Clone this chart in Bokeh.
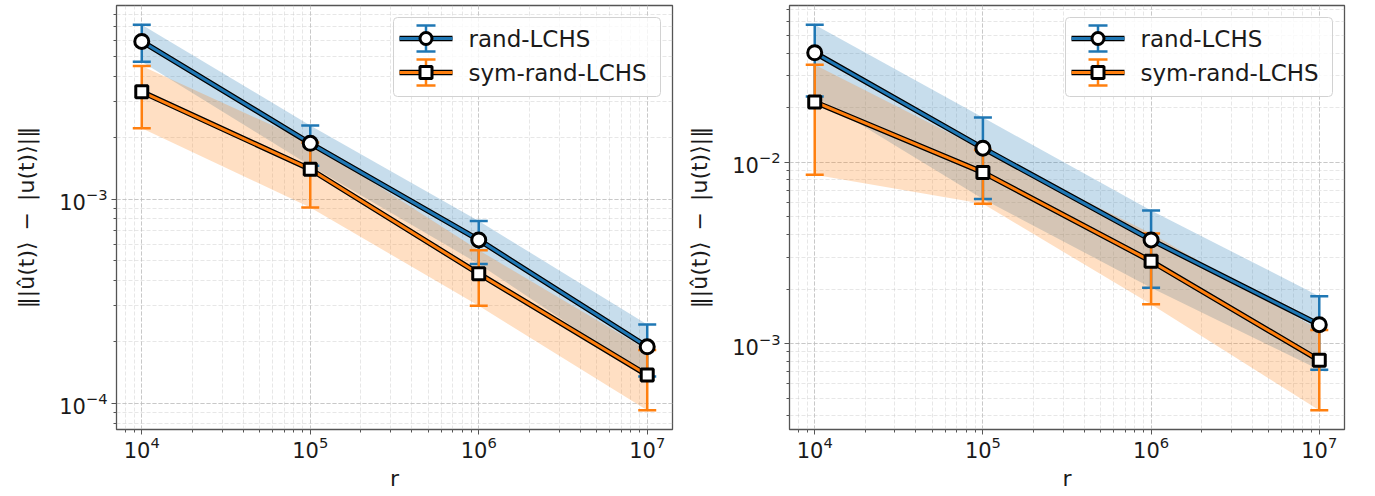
import numpy as np
from bokeh.plotting import figure
from bokeh.models import (ColumnDataSource, Whisker, TeeHead, BoxAnnotation, Range1d,
                          LogTicker, Label)
from bokeh.layouts import row
from bokeh.embed import file_html
from bokeh.resources import INLINE

# ---------------- data ----------------
r_values = [1e4, 1e5, 1e6, 1e7]

left_rand_mean = [5.92e-3, 1.875e-3, 6.31e-4, 1.89e-4]
left_rand_std = [1.22e-3, 4.2e-4, 1.5e-4, 5.4e-5]
left_sym_mean = [3.35e-3, 1.40e-3, 4.31e-4, 1.374e-4]
left_sym_std = [1.13e-3, 4.9e-4, 1.31e-4, 4.5e-5]

right_rand_mean = [4.03e-2, 1.199e-2, 3.736e-3, 1.272e-3]
right_rand_std = [1.72e-2, 5.7e-3, 1.7e-3, 5.55e-4]
right_sym_mean = [2.156e-2, 8.81e-3, 2.85e-3, 8.09e-4]
right_sym_std = [1.30e-2, 2.9e-3, 1.2e-3, 3.8e-4]

series_labels = ["rand-LCHS", "sym-rand-LCHS"]
x_label = "r"
y_label = "‖|û(t)⟩\u2002−\u2002|u(t)⟩|‖"

# ---------------- style ----------------
BLUE = "#1f77b4"
ORANGE = "#ff7f0e"
FONT = "DejaVu Sans"
FRAME_H = 424
EDGE = "#555555"
TEXT = "#1a1a1a"
LEG_W, LEG_H = 267, 79
LEG_OFF = 12
ROW_1, ROW_GAP = 21, 34          # legend row centres below the legend top
GLYPH_X, GLYPH_W = 6, 53         # legend glyph offset and length
TEXT_X = 75                       # legend text offset
MARK_H = 6                        # half size of the legend markers


def log_range(values, frac=0.05):
    lo, hi = np.log10(min(values)), np.log10(max(values))
    pad = frac * (hi - lo)
    return Range1d(10 ** (lo - pad), 10 ** (hi + pad))


def screen_whisker(p, base, lower, upper, dim, color, width, cap=None):
    src = ColumnDataSource(dict(base=[base], lower=[lower], upper=[upper]))
    head = (lambda: TeeHead(size=cap, line_color=color, line_width=width)) if cap else (lambda: None)
    w = Whisker(source=src, base="base", lower="lower", upper="upper", dimension=dim,
                base_units="screen", lower_units="screen", upper_units="screen",
                line_color=color, line_width=width, upper_head=head(), lower_head=head(),
                level="annotation")
    p.add_layout(w)


def screen_box(p, left, right, bottom, top, **kw):
    p.add_layout(BoxAnnotation(left=left, right=right, bottom=bottom, top=top,
                               left_units="screen", right_units="screen",
                               top_units="screen", bottom_units="screen",
                               level="annotation", **kw))


def make_panel(rand_mean, rand_std, sym_mean, sym_std, b_left, frame_w, b_right):
    rand_lo = [m - s for m, s in zip(rand_mean, rand_std)]
    rand_hi = [m + s for m, s in zip(rand_mean, rand_std)]
    sym_lo = [m - s for m, s in zip(sym_mean, sym_std)]
    sym_hi = [m + s for m, s in zip(sym_mean, sym_std)]

    p = figure(x_axis_type="log", y_axis_type="log",
               x_range=log_range(r_values),
               y_range=log_range(rand_lo + rand_hi + sym_lo + sym_hi),
               frame_width=frame_w, frame_height=FRAME_H,
               min_border_left=b_left, min_border_right=b_right,
               min_border_top=5, min_border_bottom=0,
               output_backend="svg", toolbar_location=None)
    p.background_fill_color = "white"
    p.border_fill_color = "white"
    p.outline_line_color = EDGE
    p.outline_line_width = 1.3

    for g in (p.xgrid, p.ygrid):
        g.grid_line_color = "#bdbdbd"
        g.grid_line_alpha = 0.65
        g.grid_line_dash = "4 2"
        g.grid_line_width = 0.9
        g.minor_grid_line_color = "#c8c8c8"
        g.minor_grid_line_alpha = 0.55
        g.minor_grid_line_dash = "4 2"
        g.minor_grid_line_width = 0.8

    for ax in (p.xaxis, p.yaxis):
        ax.ticker = LogTicker(num_minor_ticks=10)
        ax.axis_line_color = None
        ax.major_tick_line_color = EDGE
        ax.minor_tick_line_color = EDGE
        ax.major_tick_in = 0
        ax.major_tick_out = 5
        ax.minor_tick_in = 0
        ax.minor_tick_out = 3
        ax.major_label_text_font = FONT
        ax.major_label_text_font_size = "21px"
        ax.major_label_text_color = TEXT
        ax.axis_label_text_font = FONT
        ax.axis_label_text_font_size = "22px"
        ax.axis_label_text_font_style = "normal"
        ax.axis_label_text_color = TEXT
    p.xaxis.axis_label = x_label
    p.yaxis.axis_label = y_label
    p.xaxis.major_label_standoff = 1
    p.yaxis.major_label_standoff = 4
    p.xaxis.axis_label_standoff = 5
    p.yaxis.axis_label_standoff = 17

    # shaded bands
    p.varea(x=r_values, y1=rand_lo, y2=rand_hi, fill_color=BLUE, fill_alpha=0.25)
    p.varea(x=r_values, y1=sym_lo, y2=sym_hi, fill_color=ORANGE, fill_alpha=0.25)

    # error bars
    for lo, hi, c in ((rand_lo, rand_hi, BLUE), (sym_lo, sym_hi, ORANGE)):
        p.segment(x0=r_values, y0=lo, x1=r_values, y1=hi, line_color=c, line_width=2.5)
        p.scatter(x=r_values + r_values, y=lo + hi, marker="dash", size=18,
                  line_color=c, line_width=2.5)

    # lines with black outline, then markers
    for mean, c in ((rand_mean, BLUE), (sym_mean, ORANGE)):
        p.line(r_values, mean, line_color="black", line_width=5.5, line_join="round")
        p.line(r_values, mean, line_color=c, line_width=3, line_join="round")
    p.scatter(r_values, rand_mean, marker="circle", size=14, fill_color="white",
              line_color="black", line_width=3)
    p.scatter(r_values, sym_mean, marker="square", size=12, fill_color="white",
              line_color="black", line_width=3)

    # ---- legend (drawn in screen units, relative to the frame) ----
    lx = frame_w - LEG_OFF - LEG_W
    top = FRAME_H - LEG_OFF
    screen_box(p, lx, lx + LEG_W, top - LEG_H, top,
               fill_color="white", fill_alpha=0.8,
               line_color="#d2d2d2", line_alpha=1, line_width=1, border_radius=4)
    gx0, gx1 = lx + GLYPH_X, lx + GLYPH_X + GLYPH_W
    gc = (gx0 + gx1) / 2
    for i, (c, lab, marker) in enumerate(zip((BLUE, ORANGE), series_labels, ("circle", "square"))):
        cy = top - ROW_1 - i * ROW_GAP
        screen_whisker(p, cy, gx0, gx1, "width", "black", 5.5)
        screen_whisker(p, cy, gx0, gx1, "width", c, 3)
        screen_whisker(p, gc, cy - 13, cy + 13, "height", c, 2.5, cap=19)
        h = MARK_H
        screen_box(p, gc - h, gc + h, cy - h, cy + h,
                   fill_color="white", fill_alpha=1,
                   line_color="black", line_alpha=1, line_width=3,
                   border_radius=h if marker == "circle" else 0)
        p.add_layout(Label(x=lx + TEXT_X, y=cy, x_units="screen", y_units="screen",
                           text=lab, text_font=FONT, text_font_size="23px",
                           text_color=TEXT, text_baseline="middle", text_align="left",
                           level="annotation"))
    return p


p1 = make_panel(left_rand_mean, left_rand_std, left_sym_mean, left_sym_std, 116, 556, 12)
p2 = make_panel(right_rand_mean, right_rand_std, right_sym_mean, right_sym_std, 103, 555, 33)

layout = row(p1, p2)
open("out.html", "w").write(file_html(layout, INLINE))
